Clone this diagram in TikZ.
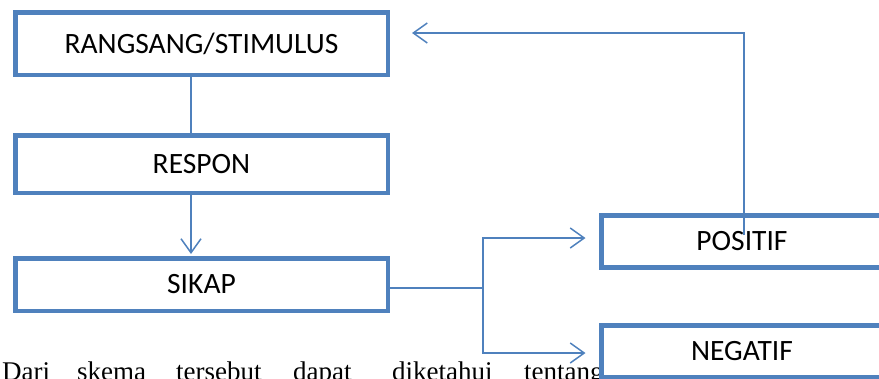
\documentclass[tikz,border=0pt]{standalone}
\usepackage{fontspec}
\setmainfont{Liberation Serif}
\newfontfamily\boxfont{Carlito}
\usetikzlibrary{arrows.meta}
\definecolor{officeblue}{HTML}{4F81BD}
\begin{document}
\begin{tikzpicture}[x=1pt,y=-1pt,
  stagebox/.style={draw=officeblue, line width=4.5pt, fill=white, rectangle,
    inner sep=0pt, minimum width=372.5pt, text=black,
    font=\boxfont\fontsize{29.5}{31}\selectfont},
  outcomebox/.style={stagebox, line width=5pt, minimum width=281pt, minimum height=52pt},
  link/.style={draw=officeblue, line width=1.5pt},
  barb/.style={link, -{Straight Barb[length=14pt,width=20pt]}},
  prose/.style={anchor=base west, inner sep=0pt, text=black,
    font=\fontsize{27}{30}\selectfont}]
\useasboundingbox (0,0) rectangle (879,378);

% main chain
\node[stagebox, minimum height=62.5pt] (stim)  at (201.5,43.5)  {RANGSANG/STIMULUS};
\node[stagebox, minimum height=57.5pt] (resp)  at (201.5,164)   {RESPON};
\node[stagebox, minimum height=52.5pt] (sikap) at (201.5,284.5) {SIKAP};

% running text below the scheme
\node[prose] (w1) at (2,380)   {Dari};
\node[prose] (w2) at (77,380)  {skema};
\node[prose] (w3) at (176,380) {tersebut};
\node[prose] (w4) at (293,380) {dapat};
\node[prose] (w5) at (392,380) {diketahui};
\node[prose] (w6) at (524,380) {tentang};

% outcomes
\node[outcomebox] (pos) at (742,241.5) {POSITIF};
\node[outcomebox] (neg) at (742,351.5) {NEGATIF};

% connectors
\draw[link] ([xshift=-10.5pt]stim.south) -- ([xshift=-10.5pt]resp.north);
\draw[barb, shorten >=2pt] ([xshift=-10.5pt]resp.south) -- ([xshift=-10.5pt]sikap.north);
\coordinate (fork) at (483,288);
\draw[link] ([yshift=-3.5pt]sikap.east) -- (fork);
\draw[barb, shorten >=13.5pt] (fork) |- ([yshift=3.5pt]pos.west);
\draw[barb, shorten >=13.5pt] (fork) |- ([yshift=-1.5pt]neg.west);
\draw[barb, shorten >=22pt] ([xshift=2pt,yshift=6.5pt]pos.center) |- ([yshift=10.5pt]stim.east);
\end{tikzpicture}
\end{document}
